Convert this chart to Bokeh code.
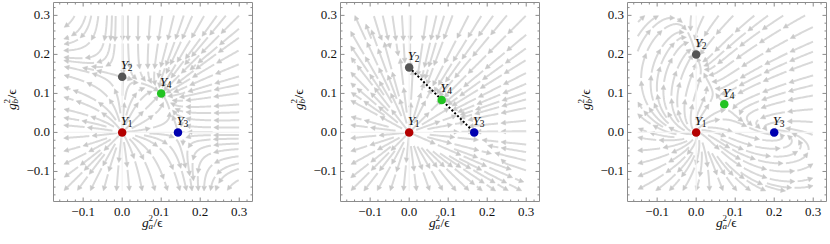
import numpy as np
from bokeh.plotting import figure
from bokeh.layouts import row
from bokeh.models import Range1d
from bokeh.core.properties import value
from bokeh.embed import file_html
from bokeh.resources import INLINE

# ---------------- data ----------------
X_RANGE = (-0.176, 0.334)          # plotted frame range, horizontal
Y_RANGE = (-0.177, 0.333)          # plotted frame range, vertical
FLOW_DOMAIN = (-0.15, 0.30)
TICKS = [-0.1, 0.0, 0.1, 0.2, 0.3]
TICK_LABELS = ["\u22120.1", "0.0", "0.1", "0.2", "0.3"]
MINOR_TICKS = [-0.16, -0.14, -0.12, -0.08, -0.06, -0.04, -0.02, 0.02, 0.04, 0.06, 0.08,
               0.12, 0.14, 0.16, 0.18, 0.22, 0.24, 0.26, 0.28, 0.32]

FP_SUBS = ["1", "2", "3", "4"]
FP_COLORS = ["#b40000", "#555555", "#0000b0", "#22c322"]

panel1_a = [0.0, 0.0, 0.143, 0.100]
panel1_b = [0.0, 0.143, 0.0, 0.100]
panel2_a = [0.0, 0.0, 0.1667, 0.0833]
panel2_b = [0.0, 0.1667, 0.0, 0.0833]
panel3_a = [0.0, 0.0, 0.200, 0.072]
panel3_b = [0.0, 0.200, 0.0, 0.072]
swirl = [0.0, 0.0, -0.3]           # rotation of the flow field per panel
show_line = [False, True, False]   # dotted line Y2-Y3 in panel 2

# ---------------- geometry (pixels) ----------------
FRAME_W, FRAME_H = 199, 200
LEFT_PX = 53
TOP_PX = 2
CANVAS_H = 240
S = FRAME_W / (X_RANGE[1] - X_RANGE[0])     # px per data unit (both axes)

STREAM_COLOR = "#d9d9d9"
ARROW_COLOR = "#c9c9c9"
FRAME_COLOR = "#8c8c8c"
TEXT_COLOR = "#111111"
SERIF = "Liberation Serif"


def make_field(fa, fb, theta):
    A = 1.0 / fa[2]
    C = 1.0 / fb[1]
    B = (1.0 - A * fa[3]) / fb[3]
    D = (1.0 - C * fb[3]) / fa[3]
    c, s = np.cos(theta), np.sin(theta)

    def f(x, y):
        u = x * (1 - A * x - B * y)
        v = y * (1 - C * y - D * x)
        return c * u - s * v, s * u + c * v
    return f


def streamlines(f, dsep=0.0160, dtest=0.0075, h=0.002, maxsteps=450):
    lo, hi = FLOW_DOMAIN
    cell = dsep
    grid = {}

    def near(p, r):
        i, j = int(np.floor(p[0] / cell)), int(np.floor(p[1] / cell))
        r2 = r * r
        for di in (-1, 0, 1):
            for dj in (-1, 0, 1):
                for q in grid.get((i + di, j + dj), ()):
                    if (q[0] - p[0]) ** 2 + (q[1] - p[1]) ** 2 < r2:
                        return True
        return False

    def add(p):
        key = (int(np.floor(p[0] / cell)), int(np.floor(p[1] / cell)))
        grid.setdefault(key, []).append(p)

    def unit(p, sign):
        u, v = f(p[0], p[1])
        n = np.hypot(u, v)
        if n < 2e-4:
            return None
        return np.array([sign * u / n, sign * v / n])

    def trace(seed, sign):
        pts = [seed]
        p = seed
        prev = None
        for _ in range(maxsteps):
            d1 = unit(p, sign)
            if d1 is None:
                break
            d2 = unit(p + 0.5 * h * d1, sign)
            if d2 is None:
                break
            if prev is not None and np.dot(d2, prev) < 0.3:
                break
            q = p + h * d2
            if q[0] < lo or q[0] > hi or q[1] < lo or q[1] > hi:
                break
            if near(q, dtest):
                break
            pts.append(q)
            p = q
            prev = d2
        return pts

    lines = []
    seeds = np.arange(lo + dsep / 2, hi, dsep)
    for sy in seeds:
        for sx in seeds:
            s = np.array([sx, sy])
            if near(s, dsep):
                continue
            fw = trace(s, 1)
            bw = trace(s, -1)
            pts = np.array(bw[::-1] + fw[1:])
            if len(pts) < 8:
                continue
            for q in pts:
                add(q)
            lines.append(pts)
    return lines


def chunks(lines, L=0.065, gap=0.007, al=0.012, hw=0.0062):
    xs, ys, axs, ays = [], [], [], []
    for pts in lines:
        seg = np.hypot(*np.diff(pts, axis=0).T)
        s = np.concatenate([[0], np.cumsum(seg)])
        total = s[-1]
        s0 = 0.0
        while s0 < total - 0.012:
            s1 = min(s0 + L, total)
            if total - s1 < 0.02:
                s1 = total
            base_s = max(s0, s1 - al)
            gs = np.linspace(s0, base_s, max(2, int((base_s - s0) / 0.003) + 2))
            xs.append(np.interp(gs, s, pts[:, 0]).tolist())
            ys.append(np.interp(gs, s, pts[:, 1]).tolist())
            tx, ty = np.interp(s1, s, pts[:, 0]), np.interp(s1, s, pts[:, 1])
            bx, by = np.interp(s1 - al, s, pts[:, 0]), np.interp(s1 - al, s, pts[:, 1])
            d = np.array([tx - bx, ty - by])
            n = np.hypot(*d)
            if n > 1e-9:
                d = d / n
                nx, ny = -d[1], d[0]
                cx, cy = tx - al * d[0], ty - al * d[1]
                axs.append([tx, cx + hw * nx, cx - hw * nx])
                ays.append([ty, cy + hw * ny, cy - hw * ny])
            s0 = s1 + gap
    return xs, ys, axs, ays


def txt(p, x, y, t, size=13, italic=True, angle=0.0, align="left", baseline="alphabetic"):
    p.text(x=[x], y=[y], text=[t], text_font=value(SERIF),
           text_font_style="italic" if italic else "normal",
           text_font_size=value(f"{size}px"), text_color=TEXT_COLOR,
           angle=angle, text_align=align, text_baseline=baseline)


def panel(fa, fb, theta, dotted, width):
    x0, x1 = X_RANGE
    y0, y1 = Y_RANGE
    top = y1 + TOP_PX / S
    p = figure(width=width, height=CANVAS_H,
               x_range=Range1d(x0 - LEFT_PX / S, x0 + (width - LEFT_PX) / S),
               y_range=Range1d(top - CANVAS_H / S, top),
               output_backend="svg", toolbar_location=None,
               x_axis_location=None, y_axis_location=None,
               min_border=0, outline_line_color=None,
               background_fill_color="white", border_fill_color="white")
    p.grid.grid_line_color = None

    # streamlines
    f = make_field(fa, fb, theta)
    xs, ys, axs, ays = chunks(streamlines(f))
    p.multi_line(xs, ys, line_color=STREAM_COLOR, line_width=2.0)
    p.patches(axs, ays, fill_color=ARROW_COLOR, line_color=ARROW_COLOR, line_width=0.5)

    lo, hi = FLOW_DOMAIN
    p.line([lo, hi], [0, 0], line_color="#f4f4f4", line_width=1.2)
    p.line([0, 0], [lo, hi], line_color="#f4f4f4", line_width=1.2)

    # frame with inward ticks on all sides
    p.line([x0, x1, x1, x0, x0], [y0, y0, y1, y1, y0], line_color=FRAME_COLOR, line_width=1)
    for tl, ticks in ((4, TICKS), (2, MINOR_TICKS)):
        L = tl / S
        tx = [t for t in ticks if x0 < t < x1]
        ty = [t for t in ticks if y0 < t < y1]
        p.segment(x0=tx + tx, y0=[y0] * len(tx) + [y1] * len(tx),
                  x1=tx + tx, y1=[y0 + L] * len(tx) + [y1 - L] * len(tx),
                  line_color=FRAME_COLOR, line_width=1)
        p.segment(x0=[x0] * len(ty) + [x1] * len(ty), y0=ty + ty,
                  x1=[x0 + L] * len(ty) + [x1 - L] * len(ty), y1=ty + ty,
                  line_color=FRAME_COLOR, line_width=1)

    # tick labels
    p.text(x=TICKS, y=[y0 - 10 / S] * len(TICKS), text=TICK_LABELS,
           text_font=value(SERIF), text_font_size=value("13px"), text_color=TEXT_COLOR,
           text_align="center", text_baseline="alphabetic")
    p.text(x=[x0 - 3.5 / S] * len(TICKS), y=TICKS, text=TICK_LABELS,
           text_font=value(SERIF), text_font_size=value("13px"), text_color=TEXT_COLOR,
           text_align="right", text_baseline="middle")

    if dotted:
        p.line([fa[1], fa[2]], [fb[1], fb[2]], line_color="black", line_width=2,
               line_dash="2 2")

    p.scatter(fa, fb, size=8.5, fill_color=FP_COLORS, line_color=None)
    for xa, yb, sub in zip(fa, fb, FP_SUBS):
        txt(p, xa - 1.5 / S, yb + 12 / S, "Y", size=13.5)
        txt(p, xa + 5.5 / S, yb + 9 / S, sub, size=9.5, italic=False)

    # x-axis title: g_a^2 / eps
    cx = (x0 + x1) / 2
    yb_ = y0 - 21 / S
    txt(p, cx - 11 / S, yb_, "g", size=13.5)
    txt(p, cx - 4.5 / S, yb_ + 5 / S, "2", size=9, italic=False)
    txt(p, cx - 4.5 / S, yb_ - 3 / S, "a", size=9)
    txt(p, cx + 0.5 / S, yb_, "/\u03f5", size=13.5, italic=False)

    # y-axis title: g_b^2 / eps (rotated)
    cy = (y0 + y1) / 2
    xb_ = x0 - 42 / S
    ang = np.pi / 2
    txt(p, xb_, cy - 8 / S, "g", size=13.5, angle=ang)
    txt(p, xb_ - 5 / S, cy - 1.5 / S, "2", size=9, italic=False, angle=ang)
    txt(p, xb_ + 3 / S, cy - 1.5 / S, "b", size=9, angle=ang)
    txt(p, xb_, cy + 3.5 / S, "/\u03f5", size=13.5, italic=False, angle=ang)
    return p


p1 = panel(panel1_a, panel1_b, swirl[0], show_line[0], 287)
p2 = panel(panel2_a, panel2_b, swirl[1], show_line[1], 287)
p3 = panel(panel3_a, panel3_b, swirl[2], show_line[2], 254)

layout = row(p1, p2, p3)
open("out.html", "w").write(file_html(layout, INLINE))
